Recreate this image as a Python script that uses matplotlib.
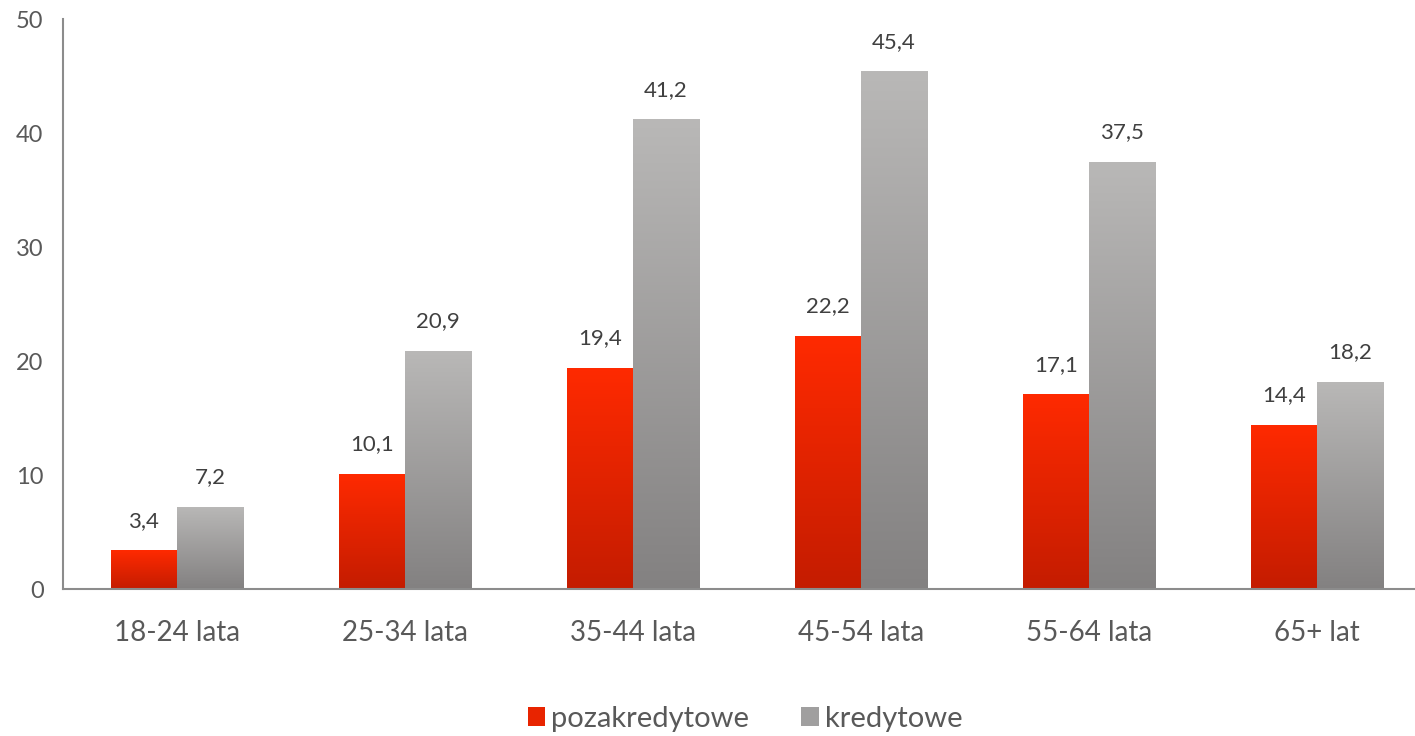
import numpy as np
import matplotlib
matplotlib.use("Agg")
import matplotlib.pyplot as plt
from matplotlib.patches import Patch
from matplotlib.colors import LinearSegmentedColormap

# data
categories = ["18-24 lata", "25-34 lata", "35-44 lata", "45-54 lata", "55-64 lata", "65+ lat"]
pozakredytowe = [3.4, 10.1, 19.4, 22.2, 17.1, 14.4]
kredytowe = [7.2, 20.9, 41.2, 45.4, 37.5, 18.2]
series_names = ["pozakredytowe", "kredytowe"]

plt.rcParams["font.family"] = ["Lato", "DejaVu Sans"]

red_cmap = LinearSegmentedColormap.from_list("red", ["#C41C00", "#FF2A00"])
gray_cmap = LinearSegmentedColormap.from_list("gray", ["#838181", "#B9B8B7"])

fig = plt.figure(figsize=(14.15, 7.36), dpi=100)
ax = fig.add_axes([63 / 1415, 147 / 736, (1415 - 63) / 1415, 570 / 736])

x = np.arange(len(categories))
w = 0.29
grad = np.linspace(0, 1, 256).reshape(-1, 1)


def gradient_bars(xpos, values, cmap):
    bars = ax.bar(xpos, values, width=w, color="none", edgecolor="none")
    for b in bars:
        x0, y0 = b.get_x(), b.get_y()
        im = ax.imshow(grad, extent=[x0, x0 + b.get_width(), y0, y0 + b.get_height()],
                       origin="lower", aspect="auto", cmap=cmap, zorder=2)
        im.set_clip_path(b)
    for xi, v in zip(xpos, values):
        ax.annotate(f"{v:.1f}".replace(".", ","), (xi, v), xytext=(0, 14),
                    textcoords="offset points", ha="center", va="bottom",
                    fontsize=16, color="#404040")


gradient_bars(x - w / 2, pozakredytowe, red_cmap)
gradient_bars(x + w / 2, kredytowe, gray_cmap)

ax.set_xlim(-0.5, -0.5 + (1415 - 63) / 228)
ax.set_ylim(0, 50)
ax.set_yticks(range(0, 51, 10))
ax.set_xticks(x)
ax.set_xticklabels(categories)
ax.tick_params(axis="both", length=0, colors="#595959")
ax.tick_params(axis="x", labelsize=20, pad=22)
ax.tick_params(axis="y", labelsize=17, pad=14)
for lbl in ax.get_yticklabels():
    lbl.set_color("#595959")

for s in ["top", "right"]:
    ax.spines[s].set_visible(False)
for s in ["left", "bottom"]:
    ax.spines[s].set_color("#8C8C8C")
    ax.spines[s].set_linewidth(1.5)

handles = [Patch(facecolor="#E82400"), Patch(facecolor="#A09F9F")]
fig.legend(handles, series_names, loc="center", bbox_to_anchor=(745 / 1415, 1 - 719 / 736),
           ncol=2, frameon=False, fontsize=21, handlelength=0.6, handleheight=0.6,
           handletextpad=0.2, columnspacing=1.8, labelcolor="#595959")

fig.savefig("out.png", dpi=100)
